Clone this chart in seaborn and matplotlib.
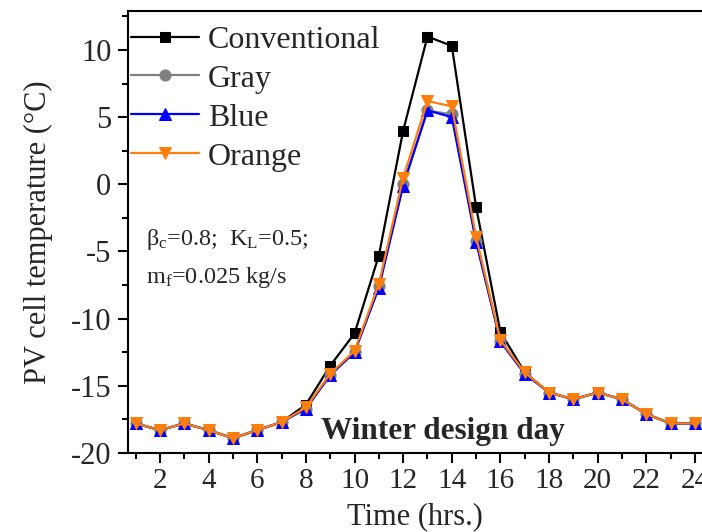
import numpy as np
import pandas as pd
import matplotlib
matplotlib.use("Agg")
import matplotlib.pyplot as plt
import seaborn as sns
from matplotlib.ticker import MultipleLocator

hours = list(range(1, 25))
conventional = [-17.8, -18.3, -17.8, -18.3, -18.9, -18.3, -17.7, -16.4, -13.5, -11.1, -5.3, 4.0,
                11.0, 10.3, -1.7, -11.0, -14.0, -15.5, -16.0, -15.5, -16.0, -17.1, -17.8, -17.8]
gray = [-17.8, -18.3, -17.8, -18.3, -18.9, -18.3, -17.7, -16.7, -14.2, -12.5, -7.6, 0.0,
        5.5, 5.2, -4.2, -11.7, -14.1, -15.5, -16.0, -15.5, -16.0, -17.1, -17.8, -17.8]
blue = [-17.8, -18.3, -17.8, -18.3, -18.9, -18.3, -17.7, -16.7, -14.2, -12.5, -7.7, -0.1,
        5.5, 5.0, -4.3, -11.7, -14.1, -15.5, -16.0, -15.5, -16.0, -17.1, -17.8, -17.8]
orange = [-17.8, -18.3, -17.8, -18.3, -18.9, -18.3, -17.7, -16.6, -14.1, -12.4, -7.4, 0.5,
          6.2, 5.8, -3.9, -11.6, -14.0, -15.5, -16.0, -15.5, -16.0, -17.1, -17.8, -17.8]
series_names = ["Conventional", "Gray", "Blue", "Orange"]
series_vals = [conventional, gray, blue, orange]
colors = ["#000000", "#808080", "#0000FF", "#FF7F0E"]
markers = ["s", "o", "^", "v"]

df = pd.DataFrame({
    "Time": hours * 4,
    "Temp": sum(series_vals, []),
    "Series": sum([[n] * 24 for n in series_names], []),
})

sns.set_style("ticks")
plt.rcParams['font.family'] = ['Liberation Serif', 'DejaVu Serif']
plt.rcParams['mathtext.fontset'] = 'custom'
plt.rcParams['mathtext.rm'] = 'Liberation Serif'
plt.rcParams['mathtext.it'] = 'Liberation Serif'
plt.rcParams['axes.unicode_minus'] = False

fig = plt.figure(figsize=(7.02, 5.32), dpi=100)
ax = fig.add_axes([128/702, 1-453/532, 1-128/702, (453-11)/532])

for name, c, m in zip(series_names, colors, markers):
    sub = df[df["Series"] == name]
    sns.lineplot(data=sub, x="Time", y="Temp", ax=ax, color=c, marker=m,
                 markersize=8 if m != "s" else 7, markeredgecolor=c, linewidth=1.6,
                 label=name)

ax.set_xlim(0.683, 24.29)
ax.set_ylim(-20, 12.9)
ax.xaxis.set_major_locator(MultipleLocator(2))
ax.xaxis.set_minor_locator(MultipleLocator(1))
ax.yaxis.set_major_locator(MultipleLocator(5))
ax.yaxis.set_minor_locator(MultipleLocator(2.5))
ax.tick_params(which='major', direction='out', length=7, width=1.5, labelsize=21, color='black', pad=4)
ax.tick_params(which='minor', direction='out', length=4, width=1.5, color='black')
ax.tick_params(axis='y', which='major', labelsize=22, pad=5)
for s in ['left', 'bottom', 'top']:
    ax.spines[s].set_linewidth(1.5)
    ax.spines[s].set_color('black')
ax.spines['right'].set_visible(False)

ax.set_xlabel("Time (hrs.)", fontsize=22, labelpad=6)
ax.set_ylabel("PV cell temperature (\u00b0C)", fontsize=22, labelpad=13)

leg = ax.legend(loc='upper left', frameon=False, fontsize=23, handlelength=2.1,
                labelspacing=0.3, borderaxespad=0.0, borderpad=0.45, handletextpad=0.3,
                bbox_to_anchor=(-0.019, 1.0))

fig.text(146/702, 1-240/532, r"$\beta_{\rm c}$=0.8;  K$_{\rm L}$=0.5;", fontsize=17.5,
         va='center', ha='left')
fig.text(146/702, 1-277/532, r"m$_{\rm f}$=0.025 kg/s", fontsize=17.5, va='center', ha='left')
fig.text(443/702, 1-432/532, "Winter design day", fontsize=22.5, fontweight='bold',
         va='center', ha='center')

fig.savefig("out.png", dpi=100)
